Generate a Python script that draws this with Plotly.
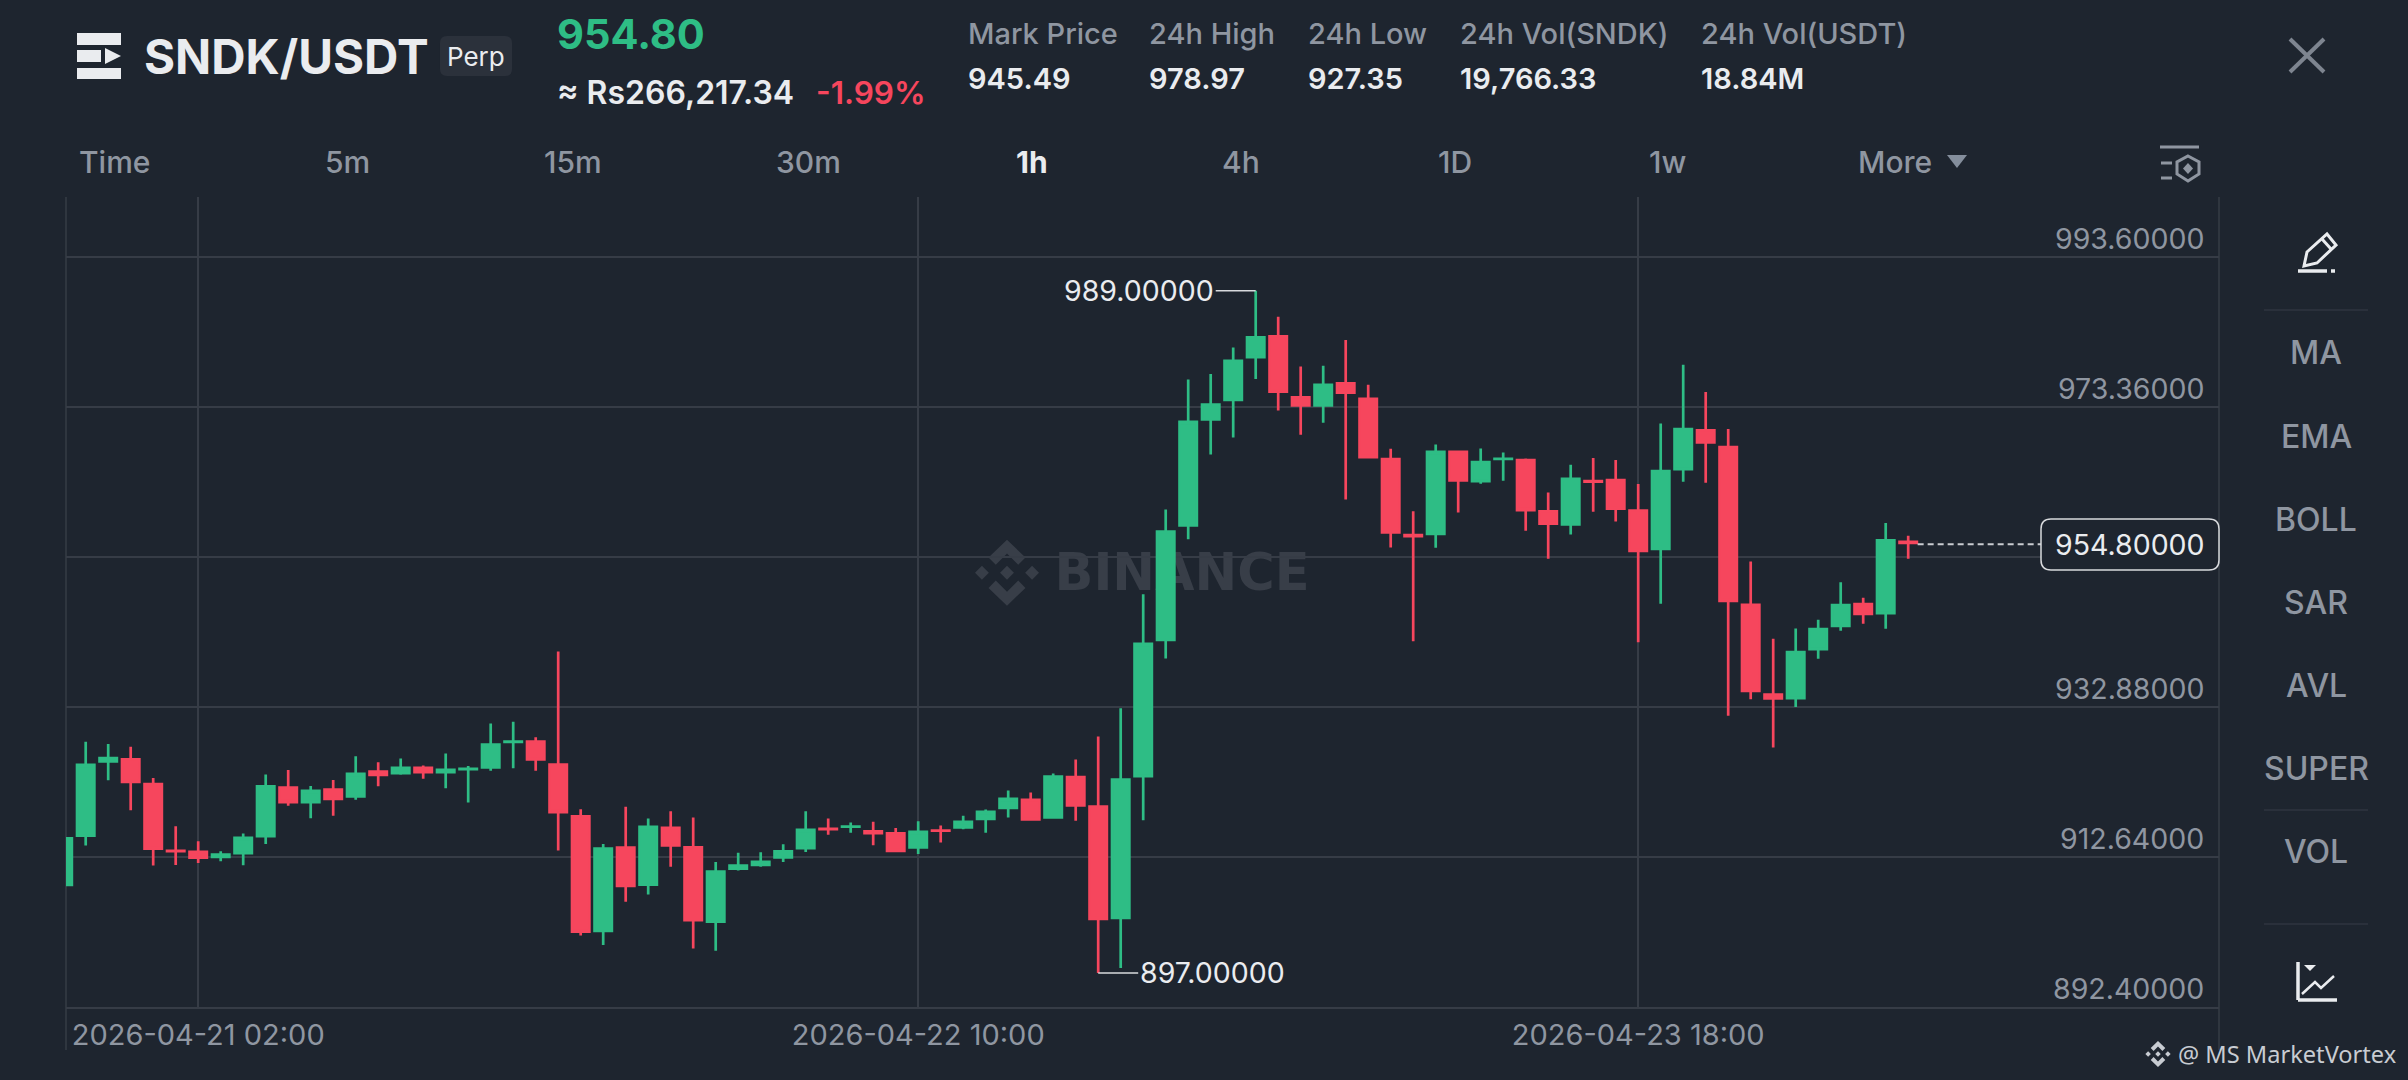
import pandas as pd
import plotly.graph_objects as go

# ---------- data ----------
start_time = "2026-04-20 20:00"
opens = [908.69,915.34,925.33,926.00,922.63,913.63,913.50,912.46,912.98,915.25,
         922.18,919.84,921.91,920.61,924.34,923.76,924.83,923.89,924.29,924.52,
         927.98,928.39,925.28,918.31,902.48,914.09,908.73,916.74,914.13,903.74,
         910.89,911.39,912.38,913.64,916.61,916.56,916.29,916.02,913.73,916.38,
         916.43,917.60,919.08,920.52,917.78,923.58,919.62,904.24,923.35,941.74,
         957.17,971.47,974.12,979.88,983.03,974.80,973.36,976.69,974.62,966.48,
         956.22,956.04,967.47,963.15,966.16,966.34,959.42,957.31,963.51,963.65,
         959.55,954.02,964.77,970.35,968.10,946.83,934.73,933.87,940.48,943.63,
         946.92,945.34,955.33]
closes = [915.34,925.24,926.14,922.58,913.59,913.23,912.37,913.14,915.39,922.36,
          919.84,921.73,920.29,924.02,923.53,924.83,923.89,924.56,924.70,927.98,
          928.39,925.60,918.49,902.39,913.95,908.55,916.88,914.00,903.92,910.85,
          911.66,912.15,913.59,916.47,916.20,916.88,915.66,913.28,916.20,916.02,
          917.55,918.90,920.65,917.51,923.67,919.40,904.10,923.26,941.56,956.72,
          971.51,973.85,979.75,982.89,975.20,973.36,976.51,975.07,966.39,956.22,
          955.73,967.47,963.24,966.07,966.52,959.24,957.40,963.83,963.06,959.42,
          953.75,964.86,970.53,968.37,947.00,934.86,933.83,940.44,943.54,946.78,
          945.25,955.51,954.80]
highs = [915.34,928.16,927.89,927.49,923.30,916.78,914.76,913.41,915.79,923.76,
         924.38,922.22,923.03,926.23,925.42,925.91,924.97,926.59,924.92,930.64,
         930.86,928.79,940.35,919.08,914.40,919.40,917.82,918.81,917.96,911.97,
         913.19,913.28,914.36,918.81,917.82,917.28,917.37,916.56,917.46,916.88,
         918.18,919.04,921.60,921.33,923.89,925.78,928.89,932.70,948.08,959.50,
         977.05,977.77,981.36,989.00,985.50,978.80,978.89,982.35,976.33,967.69,
         959.28,968.28,967.47,967.74,967.20,966.39,961.80,965.54,966.44,966.17,
         962.93,971.11,979.03,975.34,970.35,952.49,942.06,943.45,944.62,949.70,
         947.59,957.67,955.96]
lows = [908.69,914.17,922.99,918.94,911.47,911.56,911.83,912.06,911.52,914.40,
        919.53,917.86,918.18,920.34,922.18,923.71,923.17,921.91,919.98,924.25,
        924.61,924.25,913.50,902.03,900.77,906.58,907.57,911.30,900.28,900.00,
        910.80,911.30,911.97,913.32,915.62,915.89,914.22,913.28,913.05,914.58,
        916.38,915.89,917.96,917.51,917.78,917.51,897.00,897.67,917.60,939.40,
        955.50,966.93,969.22,977.09,972.86,969.58,971.20,960.85,966.39,954.38,
        941.74,954.33,959.10,962.97,963.37,956.63,952.85,956.14,959.19,957.89,
        941.61,946.78,963.24,963.11,931.67,933.92,927.39,932.88,939.36,943.14,
        944.08,943.41,952.85]
price_ticks = [993.60, 973.36, 953.12, 932.88, 912.64, 892.40]
time_ticks = ["2026-04-21 02:00", "2026-04-22 10:00", "2026-04-23 18:00"]
stat_labels = ["Mark Price", "24h High", "24h Low", "24h Vol(SNDK)", "24h Vol(USDT)"]
stat_values = ["945.49", "978.97", "927.35", "19,766.33", "18.84M"]
interval_tabs = ["Time", "5m", "15m", "30m", "1h", "4h", "1D", "1w", "More"]
tool_labels = ["MA", "EMA", "BOLL", "SAR", "AVL", "SUPER", "VOL"]

# ---------- layout constants ----------
W, H = 2408, 1080
L, R, T, B = 66, 2219, 197, 1007
BG = "#1E252F"; GRID = "#363C46"; GREEN = "#2EBD85"; RED = "#F6465D"
GRAY = "#8F96A1"; WHITE = "#EAECEF"; FONT = "Inter"
PX_PER_HOUR = 22.5; FIRST_CANDLE_PX = 63.2; USD_PER_PX = 20.24 / 150.06
CANDLE_STROKE = 2.7

def X(px): return (px - L) / (R - L)
def Y(py): return (B - py) / (B - T)

times = pd.date_range(start_time, periods=len(opens), freq="h")
x0_range = times[0] + pd.Timedelta(hours=(L - FIRST_CANDLE_PX) / PX_PER_HOUR)
x1_range = times[0] + pd.Timedelta(hours=(R - FIRST_CANDLE_PX) / PX_PER_HOUR)
y_top = price_ticks[-1] + (B - T) * USD_PER_PX

# The outline of a candle body adds half its width beyond open and close, so pull
# both in by that amount to keep the visible body edges where they were read.
def body_edge(a, b):
    inset = CANDLE_STROKE / 2 * USD_PER_PX
    if abs(a - b) <= 2 * inset:
        return (a + b) / 2 + (0.001 if a > b else -0.001)
    return a + inset if b > a else a - inset

drawn_opens = [body_edge(o, c) for o, c in zip(opens, closes)]
drawn_closes = [body_edge(c, o) for o, c in zip(opens, closes)]

fig = go.Figure()
fig.add_trace(go.Candlestick(
    x=times, open=drawn_opens, high=highs, low=lows, close=drawn_closes,
    increasing=dict(line=dict(color=GREEN, width=CANDLE_STROKE), fillcolor=GREEN),
    decreasing=dict(line=dict(color=RED, width=CANDLE_STROKE), fillcolor=RED),
    whiskerwidth=0, hoverinfo="skip", showlegend=False))
fig.add_trace(go.Scatter(
    x=[times[-1] + pd.Timedelta(hours=0.42), times[-1] + pd.Timedelta(hours=5.9)],
    y=[closes[-1], closes[-1]], mode="lines",
    line=dict(color="#C9CCD1", width=2, dash="6px,4px"),
    hoverinfo="skip", showlegend=False))

shapes, ann = [], []

def text(px, py, s, size, color=GRAY, weight=400, anchor="left", family=FONT):
    ann.append(dict(xref="paper", yref="paper", x=X(px), y=Y(py), text=s, showarrow=False,
                    xanchor=anchor, yanchor="middle",
                    font=dict(family=family, size=size, color=color, weight=weight)))

def path(points, fill=None, line=None, width=0, closed=True, layer="above"):
    d = "M " + " L ".join(f"{X(a):.6f} {Y(b):.6f}" for a, b in points) + (" Z" if closed else "")
    shapes.append(dict(type="path", xref="paper", yref="paper", path=d, layer=layer,
                       fillcolor=fill if fill else "rgba(0,0,0,0)",
                       line=dict(color=line if line else "rgba(0,0,0,0)", width=width)))

def seg(x0, y0, x1, y1, color, width, layer="above"):
    path([(x0, y0), (x1, y1)], line=color, width=width, closed=False, layer=layer)

def rrect(x0, y0, x1, y1, r, fill=None, line=None, width=0):
    d = (f"M {X(x0+r):.6f} {Y(y0):.6f} L {X(x1-r):.6f} {Y(y0):.6f} "
         f"Q {X(x1):.6f} {Y(y0):.6f} {X(x1):.6f} {Y(y0+r):.6f} L {X(x1):.6f} {Y(y1-r):.6f} "
         f"Q {X(x1):.6f} {Y(y1):.6f} {X(x1-r):.6f} {Y(y1):.6f} L {X(x0+r):.6f} {Y(y1):.6f} "
         f"Q {X(x0):.6f} {Y(y1):.6f} {X(x0):.6f} {Y(y1-r):.6f} L {X(x0):.6f} {Y(y0+r):.6f} "
         f"Q {X(x0):.6f} {Y(y0):.6f} {X(x0+r):.6f} {Y(y0):.6f} Z")
    shapes.append(dict(type="path", xref="paper", yref="paper", path=d, layer="above",
                       fillcolor=fill if fill else "rgba(0,0,0,0)",
                       line=dict(color=line if line else "rgba(0,0,0,0)", width=width)))

def logo(cx, cy, r, color, layer):
    def pts(lst): return [(cx + a * r, cy + b * r) for a, b in lst]
    for ox in (-0.76, 0.0, 0.76):
        path(pts([(ox - .21, 0), (ox, -.21), (ox + .21, 0), (ox, .21)]), fill=color, layer=layer)
    for s in (1, -1):
        path(pts([(-.56, -.46*s), (0, -1*s), (.56, -.46*s), (.34, -.24*s), (0, -.58*s), (-.34, -.24*s)]),
             fill=color, layer=layer)

# frame verticals
seg(L, T, L, 1050, GRID, 1.5, layer="below")
seg(R, T, R, 1050, GRID, 1.5, layer="below")

# watermark
logo(1007, 572.7, 33, "#383E48", "below")
shapes.append(dict(type="rect", xref="paper", yref="paper", x0=X(1050), x1=X(1314),
                   y0=Y(596), y1=Y(541), layer="below", line=dict(width=0),
                   fillcolor="rgba(0,0,0,0)",
                   label=dict(text="BINANCE", textposition="middle center",
                              font=dict(family="DejaVu Sans", size=51, color="#383E48", weight=700))))

# header
for y0, y1 in ((33, 45), (68, 79)):
    path([(77, y0), (121, y0), (121, y1), (77, y1)], fill="#EAECEF")
path([(77, 50), (101, 50), (101, 62), (77, 62)], fill="#EAECEF")
path([(105, 48), (121, 56), (105, 64)], fill="#EAECEF")
text(142, 56, "SNDK/USDT", 47.5, "#EAECEF", 700)
rrect(440, 36, 512, 76, 7, fill="#2B313B")
text(476, 57, "Perp", 26, "#EAECEF", 400, "center")
text(555, 34, "954.80", 41.5, GREEN, 700)
text(555, 92, "≈ Rs266,217.34", 32, "#EAECEF", 600)
text(814, 92, "-1.99%", 31.5, RED, 600)
stat_px = [966, 1147, 1306, 1458, 1699]
for px, lab, val in zip(stat_px, stat_labels, stat_values):
    text(px, 34, lab, 29, GRAY, 500)
    text(px, 78, val, 29, "#EAECEF", 600)
seg(2290, 39, 2324, 72, "#7E8590", 4)
seg(2324, 39, 2290, 72, "#7E8590", 4)

# interval tabs
tab_px = [77, 347, 573, 808, 1032, 1241, 1455, 1667, 1895]
for i, (px, lab) in enumerate(zip(tab_px, interval_tabs)):
    active = lab == "1h"
    if i == 0:
        text(px, 162, lab, 30, GRAY, 500)
    else:
        text(px, 162, lab, 30, "#EAECEF" if active else GRAY, 700 if active else 500, "center")
path([(1947, 155), (1967, 155), (1957, 168)], fill="#848E9C")
# settings icon
seg(2160, 147, 2199, 147, GRAY, 3)
seg(2161, 163, 2172, 163, GRAY, 3)
seg(2161, 178, 2172, 178, GRAY, 3)
path([(2188, 156), (2199, 162), (2199, 174), (2188, 181), (2177, 174), (2177, 162)], line=GRAY, width=3)
path([(2188, 163), (2193, 168.5), (2188, 174), (2183, 168.5)], fill=GRAY)

# right tools
path([(2304, 266), (2307, 252), (2327, 234), (2336, 245), (2317, 263)], line="#EAECEF", width=3)
seg(2322, 239, 2331, 249, "#EAECEF", 3)
seg(2298, 271, 2327, 271, "#EAECEF", 3.5)
seg(2331, 271, 2335, 271, "#EAECEF", 3.5)
for py in (310, 810, 924):
    seg(2264, py, 2368, py, "#2F3540", 1.5)
for py, lab in zip([353, 436, 519, 602, 685, 768, 851], tool_labels):
    text(2316, py, lab, 32, GRAY, 500, "center")
seg(2298, 962, 2298, 1000, "#EAECEF", 3.5)
seg(2298, 1000, 2337, 1000, "#EAECEF", 3.5)
path([(2304, 965), (2316, 965), (2310, 971)], fill="#EAECEF")
path([(2302, 994), (2315, 982), (2321, 988), (2334, 976)], line="#EAECEF", width=2.5, closed=False)

# price labels sit just above their grid lines; the one behind the last-price box is not shown
for v in price_ticks:
    if abs(v - closes[-1]) < 3:
        continue
    ann.append(dict(xref="paper", yref="y", x=X(2206), y=v, yshift=18.5, text=f"{v:.5f}", showarrow=False,
                    xanchor="right", yanchor="middle",
                    font=dict(family=FONT, size=28.5, color=GRAY)))

# last-price box
rrect(2041, 519, 2219, 570, 10, fill=BG, line="#D8DADD", width=1.5)
text(2130, 544.5, f"{closes[-1]:.5f}", 28.5, "#EAECEF", 400, "center")

# high / low callouts
hi = highs.index(max(highs)); lo = lows.index(min(lows))
ann.append(dict(x=times[hi], y=highs[hi], text=f"{highs[hi]:.5f}", showarrow=True, arrowhead=0,
                arrowwidth=1.5, arrowcolor="#D8DADD", ax=-40, ay=0, xanchor="right", yanchor="middle",
                font=dict(family=FONT, size=28.5, color="#EAECEF")))
ann.append(dict(x=times[lo], y=lows[lo], text=f"{lows[lo]:.5f}", showarrow=True, arrowhead=0,
                arrowwidth=1.5, arrowcolor="#D8DADD", ax=40, ay=0, xanchor="left", yanchor="middle",
                font=dict(family=FONT, size=28.5, color="#EAECEF")))

# credit
logo(2158, 1054, 13, "#C8CCD2", "above")
text(2176, 1054, "@ MS MarketVortex", 23.6, "#C8CCD2", 400, family="Noto Sans")

fig.update_layout(
    width=W, height=H, margin=dict(l=L, r=W - R, t=T, b=H - B), autosize=False,
    paper_bgcolor=BG, plot_bgcolor=BG, boxgap=0.23, boxgroupgap=0, showlegend=False,
    shapes=shapes, annotations=ann, font=dict(family=FONT, color=GRAY, size=28),
    xaxis=dict(type="date", range=[x0_range, x1_range], rangeslider=dict(visible=False),
               tickmode="array", tickvals=time_ticks, ticktext=time_ticks,
               showgrid=True, gridcolor=GRID, gridwidth=1.5, showline=True, linecolor=GRID, linewidth=1.5,
               ticks="", zeroline=False, tickfont=dict(family=FONT, size=29, color=GRAY),
               ticklabelstandoff=1, tickangle=0),
    yaxis=dict(range=[price_ticks[-1], y_top], side="right", showticklabels=False,
               tickmode="array", tickvals=price_ticks,
               showgrid=True, gridcolor=GRID, gridwidth=1.5, zeroline=False, showline=False, ticks=""),
)
fig.write_html("out.html", post_script="document.body.style.margin='0';",
               config=dict(displayModeBar=False))
